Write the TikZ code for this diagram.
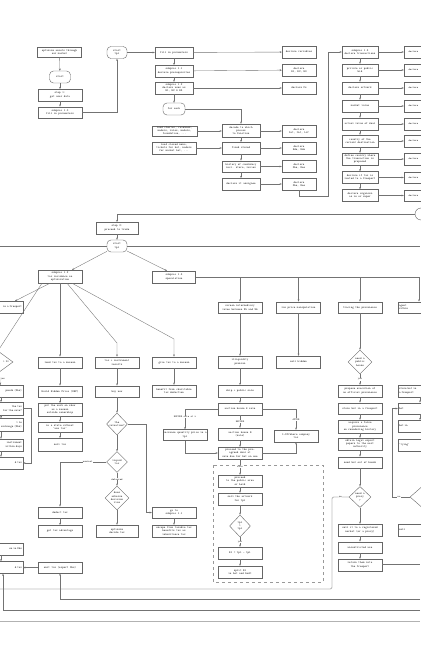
\documentclass[tikz,border=0pt]{standalone}
\usetikzlibrary{arrows.meta,shapes.geometric,calc}
\begin{document}
\begin{tikzpicture}[x=1pt,y=-1pt,
 every node/.style={font=\ttfamily\fontsize{2.9}{3.3}\selectfont, text=black!85},
 box/.style={draw=black!60, line width=0.4pt, fill=white, minimum width=44pt, minimum height=11.5pt, inner sep=0.4pt, align=center},
 dbox/.style={box, minimum width=34pt, minimum height=12pt},
 rbox/.style={box, minimum width=36pt, minimum height=12pt},
 cutr/.style={box, text width=35pt, align=left, font=\ttfamily\fontsize{2.6}{3}\selectfont},
 cutl/.style={box, text width=42pt, align=right},
 term/.style={box, rounded corners=4pt, minimum width=21pt, minimum height=12pt},
 dia/.style={diamond, draw=black!60, line width=0.4pt, fill=white, inner sep=0pt, aspect=1, align=center},
 ln/.style={draw=black!55, line width=0.35pt},
 ar/.style={ln, -{Stealth[length=2.2pt,width=1.8pt]}},
 lbl/.style={font=\ttfamily\fontsize{2.6}{3}\selectfont, fill=white, inner sep=0.3pt}]
\useasboundingbox (0,0) rectangle (420,660);
\fill[white] (0,0) rectangle (420,660);
% ---------- top section ----------
\node[box,minimum height=10pt] (opt) at (59.5,52) {optimize assets through\\our market};
\node[term] (start0) at (60,77) {start};
\node[box] (step1) at (60,95) {step 1:\\get user data};
\node[box] (sp10) at (60,112.5) {subproc 1.0\\fill in parameters};
\node[term,minimum width=20pt] (starttpl) at (117,52.5) {start\\tpl};
\node[box,minimum width=38pt] (fill) at (174,52.5) {fill in parameters};
\node[box,minimum width=38pt] (sp11) at (174,71) {subproc 1.1\\declare prerequisites};
\node[box,minimum width=38pt,minimum height=12pt] (sp12a) at (174,88) {subproc 1.2\\declare uses as\\B1, B2 \& B3};
\node[term,minimum width=22pt] (foreach) at (174,109) {for each};
\node[box,minimum width=45pt,minimum height=10.5pt] (load1) at (174.5,131) {load charter, rulebook,\\models, rules, models,\\foundation, ...};
\node[box,minimum width=44pt,minimum height=12pt] (load2) at (174,148) {load closed memo,\\tickets for hot, models\\for market hat, ...};
\node[dbox] (decl1) at (299,52) {declare variables};
\node[dbox] (decl2) at (299,70) {declare\\B1, B2, B3};
\node[dbox] (decl3) at (299,88) {declare Fs};
\node[box,minimum width=38pt,minimum height=13pt] (dec) at (241,130.5) {decode to which\\pieces\\to function};
\node[dbox] (decl4) at (299,131) {declare\\Int, Int, Lif};
\node[box,minimum width=38pt] (fixed) at (241,148) {fixed stored};
\node[dbox] (decl5) at (299,148) {declare\\Ede, Ede};
\node[box,minimum width=38pt] (hist) at (241,166.5) {history of candidacy\\incl. store, review};
\node[dbox] (decl6) at (299,166.5) {declare\\Ohe, Ree};
\node[box,minimum width=38pt] (assig) at (241,184) {declare it assignee};
\node[dbox] (decl7) at (299,184) {declare\\Ohe, Ree};
\node[rbox] (sp13) at (360,52) {subproc 1.3\\declare transactions};
\node[rbox] (priv) at (360,70) {private or public\\bid};
\node[rbox] (art) at (360,88) {declare artwork};
\node[rbox] (mval) at (360,106) {market value};
\node[rbox] (aval) at (360,124) {actual value of deal};
\node[rbox] (ctry) at (360,141) {country of the\\current destination};
\node[rbox] (defc) at (360,159) {define country where\\the transaction is\\proposed};
\node[rbox] (frp) at (360,177.5) {declare if tax is\\routed to a freeport};
\node[rbox] (org) at (360,195.5) {declare organism\\as re or super};
\foreach \n/\y in {sp13/52,priv/70,art/88,mval/106,aval/124,ctry/141,defc/159,frp/177.5,org/195.5}{
  \node[cutr] (r\n) at (426,\y) {declare};
  \draw[ar] (\n.east) -- (r\n.west);
}
\draw[ar] (opt) -- (start0);
\draw[ar] (start0) -- (step1);
\draw[ar] (step1) -- (sp10);
\draw[ar] (sp10.east) -| (starttpl.south);
\draw[ar] (starttpl) -- (fill);
\draw[ar] (fill) -- (sp11);
\draw[ar] (sp11) -- (sp12a);
\draw[ar] (sp12a) -- (foreach);
\draw[ar] (fill) -- (decl1);
\draw[ar] (sp11) -- (decl2);
\draw[ar] (sp12a) -- (decl3);
\draw[ar] (foreach.east) -| (dec.north);
\draw[ar] (load1.east) -- (load1.east -| dec.west);
\draw[ar] (load2) -- (fixed);
\draw[ar] (dec) -- (fixed);
\draw[ar] (fixed) -- (hist);
\draw[ar] (hist) -- (assig);
\draw[ar] (dec.east |- decl4) -- (decl4);
\draw[ar] (fixed) -- (decl5);
\draw[ar] (hist) -- (decl6);
\draw[ar] (assig) -- (decl7);
\draw[ar] (decl7.south) |- (328,196) |- (sp13.west);
\draw[ar] (sp13) -- (priv);
\draw[ar] (priv) -- (art);
\draw[ar] (art) -- (mval);
\draw[ar] (mval) -- (aval);
\draw[ar] (aval) -- (ctry);
\draw[ar] (ctry) -- (defc);
\draw[ar] (defc) -- (frp);
\draw[ar] (frp) -- (org);
\node[circle,draw=black!60,line width=0.4pt,minimum size=12pt] (circ) at (421,214) {};
\draw[ar] (circ.west) -| (117,222);
% ---------- step 2 ----------
\node[box,minimum width=42pt,minimum height=12pt] (step2) at (117,228) {step 2:\\proceed to trade};
\node[term,minimum width=20pt] (start2) at (117,246) {start\\tpl};
\coordinate (lw) at (0,246);
\coordinate (le) at (420,246);
\draw[ar] (step2) -- (start2);
\draw[ln] (start2.west) -- (lw);
\draw[ln] (start2.east) -- (le);
\node[box,minimum height=13pt] (sp12b) at (60,276.5) {subproc 1.2\\tax incidence on\\optimization};
\node[box,minimum width=43pt,minimum height=12pt] (sp13b) at (174,277) {subproc 1.3\\speculation};
\draw[ar] (start2) -- ([xshift=12pt]sp12b.north);
\draw[ar] (start2) -- ([xshift=-7pt]sp13b.north);
% speculation branch
\node[box] (screen) at (240,307.5) {screen intermediary\\value between 95 and 96};
\node[box] (rawp) at (298.5,307.5) {raw price manipulation};
\node[box] (trace) at (360,307.5) {tracing the provenance};
\node[box,text width=42pt,align=left] (agent) at (420,307.5) {agent\\within};
\coordinate (be) at (420,277);
\draw[ln] (sp13b.east) -- (be);
\foreach \n in {screen,rawp,trace}{\draw[ar] (\n.north |- be) -- (\n.north);}
\draw[ar] (419,277) -- (419,301.5);
% tax incidence branch
\node[cutl] (freep) at (1,307) {in a freeport};
\node[dia,minimum width=30pt,minimum height=22pt] (diamL) at (-2,362) {};
\node[lbl,fill=none] (diamLt) at (6,362) {> 20};
\node[box] (lend) at (60,362.5) {lend tax to a museum};
\node[box] (taxinst) at (117,362.5) {tax + instrument\\results};
\node[box] (give) at (174,362.5) {give tax to a museum};
\draw[ar] ([xshift=-10pt]sp12b.south) -- (15,301);
\draw[ar] ([xshift=-18pt]sp12b.south) -- (diamL.north);
\draw[ar] (sp12b.south -| lend.north) -- (lend.north);
\draw[ar] ([xshift=7pt]sp12b.south) -- (117,343) -- (taxinst.north);
\draw[ar] ([xshift=12pt]sp12b.south) -- (174,339) -- (give.north);
% left cut column
\node[cutl] (L1) at (1,391) {ponds (Dhs)};
\node[cutl,minimum height=12.5pt] (L2) at (1,408.5) {the tax\\for the sale?};
\node[cutl,minimum height=13pt] (L3) at (1,425) {> 1e\\exchange (Dhs)};
\node[cutl,minimum height=12pt] (L4) at (1,445) {instrument\\within days};
\node[cutl,minimum height=12pt] (L5) at (1,463) {d tax};
\node[cutl,minimum height=12pt] (L6) at (1,549) {en in Dhs};
\node[cutl,minimum height=12pt] (L7) at (1,567.5) {d tax};
\draw[ar] (diamL) -- node[lbl,xshift=3pt]{yes} (L1);
\draw[ar] (L1) -- (L2);
\draw[ar] (L2) -- (L3);
\draw[ar] (L3) -- (L4);
\draw[ar] (L4) -- (L5);
\draw[ar] (L2.east) -- (31,408.5) |- (L5.east);
\draw[ar] (L6) -- (L7);
% lend column
\node[box] (build) at (60,391.5) {Build Hidden Price (DHP)};
\node[box,minimum height=12.5pt] (put) at (60,409.5) {put the work on show\\as a museum\\outside ownership};
\node[box,minimum height=10pt] (instate) at (60,427) {in a state without\\'use tax'};
\node[box,minimum height=12.5pt] (selltax) at (60,444.5) {sell tax};
\node[box] (deduct) at (60,512.5) {deduct tax};
\node[box] (getadv) at (60,531) {get tax advantage};
\node[box] (omit) at (60,567.5) {omit tax (export Dhs)};
\draw[ar] (lend) -- (build);
\draw[ar] (build) -- (put);
\draw[ar] (put) -- (instate);
\draw[ar] (instate) -- (selltax);
\draw[ar] (deduct) -- (getadv);
\draw[ar] (omit) -- (L7);
% tax + instrument column
\node[box] (buynow) at (117,391.5) {buy now};
\node[dia,minimum width=21pt,minimum height=22pt] (tb) at (117,424) {the\\valuation?};
\node[dia,minimum width=21pt,minimum height=21pt] (liq) at (117,462) {liquid\\tax};
\node[dia,minimum width=21pt,minimum height=21pt] (adv) at (117,498) {does\\adverse\\decision\\rise};
\node[box,minimum width=42pt,minimum height=12pt] (optim) at (117,531) {optimize\\decide tax};
\draw[ar] (taxinst) -- (buynow);
\draw[ar] (buynow) -- (tb);
\draw[ar] (tb) -- (liq);
\draw[ar] (liq) -- node[lbl,pos=0.5]{deferred} (adv);
\draw[ar] (adv) -- (optim);
\draw[ar] (liq.west) -| node[lbl,pos=0.2]{nominal} (deduct.north);
% give column
\node[box,minimum height=12pt] (benefit) at (174,391) {benefit from charitable\\tax deduction};
\node[box] (goto) at (174,512.5) {go to\\subproc 1.1};
\node[box,minimum height=12pt] (resign) at (174,531) {escape from taxable tax\\benefits tax as\\inheritance tax};
\draw[ar] (give) -- (benefit);
\draw[ar] (tb.east) -- (146,424) |- (goto.west);
\draw[ar] (goto) -- (resign);
% speculation columns
\node[box,minimum height=12pt] (illiq) at (240,362) {illiquidity\\premium};
\node[box,minimum height=12pt] (sellh) at (298.5,362) {sell hidden};
\node[box] (ship) at (240,391) {ship + public sale};
\node[box,minimum height=12pt] (auction) at (240,409) {auction house \& sale};
\node[box,minimum height=12pt] (auctionB) at (240,434) {auction house B\\(sale)};
\node[box,minimum height=12pt] (offshore) at (296,436) {I-Offshore company\\tax};
\node[box,minimum height=11pt] (increase) at (185,435) {increase quantity price in a\\tpl};
\node[box,minimum height=12pt] (proceed) at (240,453) {proceed to the pre-\\agreed deal at\\sale due for bot on one};
\node[box,minimum height=12pt] (pubarea) at (240,481) {proceed\\to the public area\\or hold};
\node[box,minimum height=12pt] (sellart) at (240,499) {sell the artwork\\for tpl};
\node[dia,minimum width=21pt,minimum height=22pt] (tplc) at (240,526) {tpl\\>\\tpl};
\node[box,minimum height=12pt] (b1) at (240,553) {B1 = tpl - tpl};
\node[box,minimum height=12pt] (split) at (240,572) {split B1\\in bot and bwdt};
\draw[ar] (screen) -- (illiq);
\draw[ar] (rawp) -- (sellh);
\draw[ar] (illiq) -- (ship);
\draw[ar] (ship) -- (auction);
\draw[ar] (auction) -- node[lbl]{BEFORE} (auctionB);
\draw[ar] (auction.east) -| node[lbl,pos=0.75]{AFTER} (offshore.north);
\draw[ar] (auction.west) -| node[lbl,pos=0.7]{BEFORE sale at x} (increase.north);
\draw[ar] (increase.south) |- (proceed.west);
\draw[ar] (auctionB) -- (proceed);
\draw[ar] (proceed.east) -| (offshore.south);
\draw[ar] (proceed) -- node[lbl]{sale} (pubarea);
\draw[ar] (pubarea) -- (sellart);
\draw[ar] (sellart) -- (tplc);
\draw[ar] (tplc) -- node[lbl]{yes} (b1);
\draw[ar] (b1) -- (split);
\draw[dashed,draw=black!40,line width=0.3pt] (213,465) rectangle (323,582);
% provenance column
\node[dia,minimum width=24pt,minimum height=24pt] (needpub) at (360,362) {need a\\public\\house};
\node[box,minimum height=12pt] (propose) at (360,391) {propose execution of\\an official provenance};
\node[box] (store) at (360,408.5) {store bot in a freeport};
\node[box,minimum height=13pt] (acquire) at (360,426.5) {acquire a false\\provenance\\on remodeling history};
\node[box,minimum height=12pt] (obtain) at (360,444) {obtain legal export\\papers to the next\\authority};
\node[box] (sendout) at (360,462.5) {send bot out of bonds};
\node[dia,minimum width=22pt,minimum height=21pt] (proxy) at (360,497) {need a\\proxy\\?};
\node[box,minimum height=12pt] (sellreg) at (360,530) {sell it to a registered\\market (or a proxy)};
\node[box] (unres) at (360,547.5) {unrestricted use};
\node[box,minimum height=12pt] (ret) at (360,565) {return them into\\the freeport};
\draw[ar] (trace) -- (needpub);
\draw[ar] (needpub) -- node[lbl]{yes} (propose);
\draw[ar] (propose) -- (store);
\draw[ar] (store) -- (acquire);
\draw[ar] (acquire) -- (obtain);
\draw[ar] (obtain) -- (sendout);
\draw[ar] (sendout) -- (proxy);
\draw[ar] (proxy) -- (sellreg);
\draw[ar] (sellreg) -- (unres);
\draw[ar] (unres) -- (ret);
\coordinate (rete) at (420,564);
\draw[ln] (ret.east |- rete) -- (rete);
\coordinate (gl) at (0,589);
\draw[draw=black!25,line width=0.9pt,rounded corners=2pt] (proxy.west) -- node[lbl,text=black!85,pos=0.5]{no} (332,497) |- (gl);
% right cut column
\node[box,text width=42pt,align=left] (rc1) at (420,391) {store bot in\\a freeport};
\node[box,text width=42pt,align=left] (rc2) at (420,408.5) {bot};
\node[box,text width=42pt,align=left] (rc3) at (420,426) {bot in};
\node[box,text width=42pt,align=left] (rc4) at (420,445) {'tying'};
\node[dia,minimum width=24pt,minimum height=21pt] (rcd) at (422,497) {};
\node[box,text width=42pt,align=left] (rc5) at (420,530) {sell};
\draw[ar] (rc1) -- (rc2);
\draw[ar] (rc2) -- (rc3);
\draw[ar] (rcd.west) -- node[lbl,pos=0.6]{no} (392,497) |- (rc2.west);
% bottom return lines
\coordinate (b1e) at (420,599);
\coordinate (b2e) at (420,610);
\draw[ar] (b1e) -| (omit.south);
\draw[ar] (b2e) -| (L7.south -| 3,0);
\draw[draw=black!30,line width=0.4pt] (0,621) -- (420,621);
\end{tikzpicture}
\end{document}
